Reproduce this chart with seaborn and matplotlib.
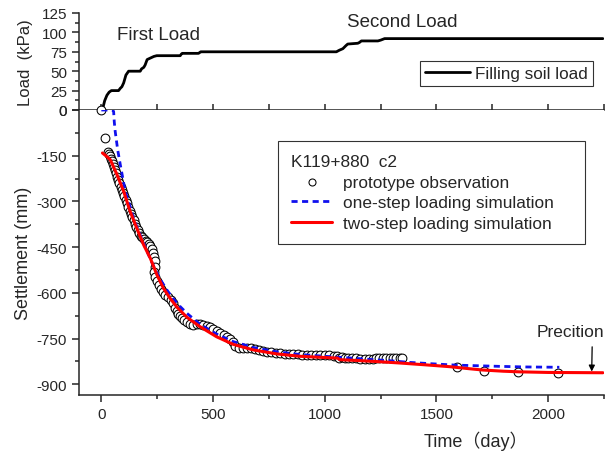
import numpy as np
import pandas as pd
import matplotlib
matplotlib.use("Agg")
import matplotlib.pyplot as plt
from matplotlib.ticker import MultipleLocator
import seaborn as sns

# ---------------- data ----------------
load_t = [0, 8, 15, 25, 35, 45, 77, 85, 92, 100, 110, 122, 174, 180, 190, 196, 205, 220, 235, 248,
          353, 358, 362, 435, 440, 445, 1052, 1065, 1081, 1095, 1103, 1148, 1155, 1164, 1238, 1250, 1268, 2245]
load_kpa = [0, 4, 12, 19, 23, 25, 25, 28, 30, 35, 45, 50, 50, 53, 55, 58, 65, 67, 69, 70,
            70, 72, 73, 73, 74, 75, 75, 77, 79, 83, 85, 86, 87, 89, 89, 90, 92, 92]

obs_t = [0, 18, 30, 34, 38, 42, 46, 50, 55, 60, 65, 70, 75, 80, 86, 92, 97, 103, 109, 115,
         121, 127, 133, 139, 145, 151, 157, 163, 170, 177, 184, 191, 198, 205, 212, 219, 226, 232, 237, 241,
         238, 236, 242, 250, 258, 267, 277, 287, 298, 310, 322, 331, 337, 343, 350, 360, 372, 385, 398, 412,
         427, 442, 457, 472, 487, 502, 517, 532, 547, 562, 577, 590, 600, 615, 632, 650, 668, 686, 704, 722,
         740, 760, 780, 800, 820, 840, 860, 880, 900, 920, 940, 960, 980, 1000, 1020, 1040, 1055, 1063, 1075, 1090,
         1105, 1120, 1140, 1160, 1180, 1200, 1215, 1230, 1245, 1260, 1275, 1290, 1305, 1320, 1335, 1348,
         1591, 1714, 1866, 2046]
obs_s = [0, -92, -138, -145, -152, -160, -168, -177, -187, -198, -208, -220, -230, -240, -251, -262, -272, -283, -294, -305,
         -318, -330, -342, -352, -362, -373, -384, -394, -404, -412, -418, -424, -429, -434, -440, -446, -456, -468, -482, -497,
         -515, -530, -548, -561, -574, -586, -597, -606, -615, -624, -634, -648, -661, -670, -676, -682, -689, -696, -702, -704,
         -703, -701, -704, -708, -712, -718, -725, -731, -738, -745, -752, -762, -774, -780, -781, -782, -782, -783, -786, -790,
         -793, -795, -797, -798, -799, -800, -801, -802, -803, -803, -804, -804, -805, -805, -805, -806, -806, -812, -811, -812,
         -813, -814, -815, -816, -816, -817, -816, -815, -814, -814, -813, -813, -812, -812, -812, -812,
         -844, -856, -858, -862]

one_t = [0, 50, 55, 58, 62, 73, 85, 107, 130, 144, 174, 204, 234, 264, 293, 323, 353, 383, 442, 516,
         591, 680, 784, 888, 1000, 1100, 1200, 1300, 1379, 1513, 1588, 1781, 1900, 2050]
one_s = [0, 0, -5, -40, -70, -130, -180, -267, -320, -355, -410, -463, -512, -556, -590, -620, -645, -667, -703, -735,
         -760, -779, -793, -802, -808, -813, -818, -823, -828, -834, -837, -841, -843, -844]

two_t = [5, 20, 40, 70, 100, 129, 159, 189, 219, 249, 278, 308, 340, 383, 442, 516, 591, 680, 784, 888,
         1000, 1058, 1066, 1150, 1250, 1335, 1450, 1558, 1650, 1707, 1800, 1871, 2000, 2245]
two_s = [-141, -150, -163, -212, -267, -333, -388, -442, -486, -541, -585, -618, -648, -680, -711, -744, -769, -787, -800, -808,
         -812, -814, -819, -822, -826, -830, -836, -842, -849, -853, -857, -859, -861, -862]

load_ticks = [0, 25, 50, 75, 100, 125]
settle_ticks = [0, -150, -300, -450, -600, -750, -900]
time_ticks = [0, 500, 1000, 1500, 2000]

# ---------------- style ----------------
sns.set_style("ticks")
plt.rcParams["font.family"] = ["Liberation Sans", "Noto Sans CJK SC", "DejaVu Sans"]
plt.rcParams["axes.linewidth"] = 1.1
plt.rcParams["axes.unicode_minus"] = False

fig = plt.figure(figsize=(6.13, 4.52), dpi=100)
L, W = 79 / 613, 525 / 613
ax_top = fig.add_axes([L, (452 - 111) / 452, W, 97 / 452])
ax = fig.add_axes([L, (452 - 396) / 452, W, 285 / 452])

xlim = (-100, 2250)

# ---- top panel: load ----
df_load = pd.DataFrame({"t": load_t, "load": load_kpa})
sns.lineplot(data=df_load, x="t", y="load", ax=ax_top, color="black", lw=2,
             sort=False, estimator=None, label="Filling soil load")
ax_top.set_xlim(*xlim)
ax_top.set_ylim(0, 125)
ax_top.set_yticks(load_ticks)
ax_top.yaxis.set_minor_locator(MultipleLocator(12.5))
ax_top.set_xticks(time_ticks)
ax_top.xaxis.set_minor_locator(MultipleLocator(250))
ax_top.tick_params(axis="x", which="both", direction="in", length=4, labelbottom=False, width=1.1)
ax_top.tick_params(axis="y", which="major", direction="out", length=5, width=1.1, labelsize=11)
ax_top.tick_params(axis="y", which="minor", direction="out", length=3, width=1.1)
for s in ["top", "right"]:
    ax_top.spines[s].set_visible(False)
ax_top.set_xlabel("")
ax_top.set_ylabel("Load  (kPa)", fontsize=12)
ax_top.yaxis.set_label_coords(-0.088, 0.5)
ax_top.text(71, 97, "First Load", fontsize=13.5, va="center", ha="left")
ax_top.text(1098, 114, "Second Load", fontsize=13.5, va="center", ha="left")
leg1 = ax_top.legend(loc="upper left", bbox_to_anchor=(0.65, 0.505), fontsize=12.3, frameon=True,
                     fancybox=False, edgecolor="black", handlelength=2.6, borderpad=0.3,
                     handletextpad=0.3, borderaxespad=0)
leg1.get_frame().set_linewidth(0.8)
ax_top.patch.set_alpha(0)

# ---- bottom panel: settlement ----
df_obs = pd.DataFrame({"t": obs_t, "s": obs_s})
df_one = pd.DataFrame({"t": one_t, "s": one_s})
df_two = pd.DataFrame({"t": two_t, "s": two_s})

sns.scatterplot(data=df_obs, x="t", y="s", ax=ax, marker="o", s=40, facecolor="white",
                edgecolor="black", linewidth=0.75, zorder=3, clip_on=False,
                label="prototype observation")
sns.lineplot(data=df_one, x="t", y="s", ax=ax, color="#1010ee", lw=2,
             sort=False, estimator=None, zorder=4, label="one-step loading simulation")
ax.lines[-1].set_linestyle((0, (2.2, 1.6)))
sns.lineplot(data=df_two, x="t", y="s", ax=ax, color="#ff0000", lw=2.2,
             sort=False, estimator=None, zorder=5, label="two-step loading simulation")

ax.set_xlim(*xlim)
ax.set_ylim(-935, 0)
ax.set_yticks(settle_ticks)
ax.yaxis.set_minor_locator(MultipleLocator(75))
ax.set_xticks(time_ticks)
ax.xaxis.set_minor_locator(MultipleLocator(250))
ax.tick_params(axis="both", which="major", direction="out", length=5, width=1.1, labelsize=11)
ax.tick_params(axis="both", which="minor", direction="out", length=3, width=1.1)
for s in ["top", "right"]:
    ax.spines[s].set_visible(False)
ax.set_ylabel("Settlement (mm)", fontsize=13)
ax.yaxis.set_label_coords(-0.09, 0.5)
ax.set_xlabel("Time（day）", fontsize=13)
ax.xaxis.set_label_coords(0.755, -0.125)

ax.text(2100, -727, "Precition", fontsize=12.5, ha="center", va="center")
ax.annotate("", xy=(2195, -858), xytext=(2197, -777),
            arrowprops=dict(arrowstyle="-|>", color="black", lw=0.9, mutation_scale=9,
                            shrinkA=0, shrinkB=0))

leg2 = ax.legend(loc="upper left", bbox_to_anchor=(0.379, 0.891, 0.585, 0.0), mode="expand",
                 fontsize=12.4, frameon=True,
                 fancybox=False, edgecolor="black", title="K119+880  c2", title_fontsize=12.4,
                 handlelength=2.4, borderpad=0.75, labelspacing=0.33, handletextpad=0.6,
                 borderaxespad=0, markerscale=0.8)
leg2._legend_box.align = "left"
leg2.get_frame().set_linewidth(0.8)

fig.savefig("out.png", dpi=100)
